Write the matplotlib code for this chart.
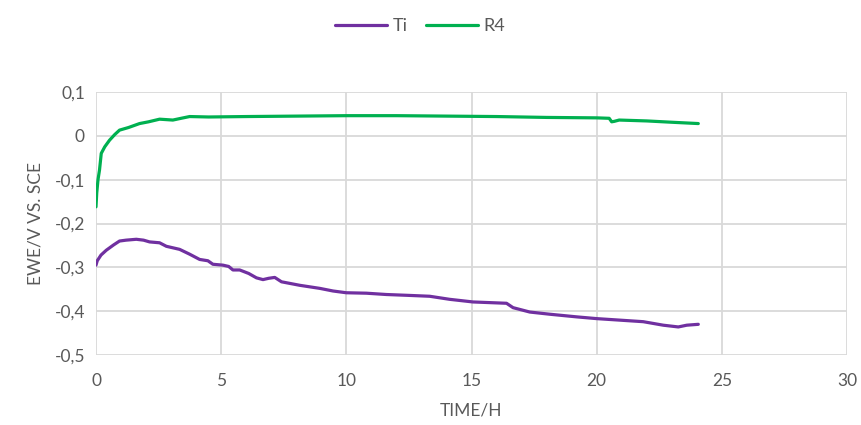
import matplotlib
matplotlib.use("Agg")
import matplotlib.pyplot as plt
from matplotlib.ticker import FuncFormatter, MultipleLocator

plt.rcParams['font.family'] = ['Lato', 'DejaVu Sans']

ti_t = [0, 0.05, 0.2, 0.41, 0.7, 0.94, 1.2, 1.61, 1.9, 2.14, 2.54, 2.81, 3.34, 3.74,
        4.14, 4.47, 4.67, 5.07, 5.3, 5.47, 5.74, 6.1, 6.41, 6.67, 6.9, 7.14, 7.41, 8.14,
        8.94, 9.47, 10.0, 10.8, 11.6, 12.5, 13.33, 14.13, 15.06, 16.4, 16.66, 17.33,
        18.13, 19.2, 20.0, 20.8, 21.86, 22.66, 23.26, 23.6, 24.06]
ti_v = [-0.295, -0.285, -0.272, -0.261, -0.249, -0.240, -0.238, -0.236, -0.238, -0.242,
        -0.244, -0.252, -0.259, -0.270, -0.282, -0.285, -0.293, -0.295, -0.298, -0.306,
        -0.306, -0.314, -0.324, -0.328, -0.325, -0.323, -0.333, -0.341, -0.348, -0.354,
        -0.358, -0.359, -0.362, -0.364, -0.366, -0.373, -0.379, -0.382, -0.392, -0.402,
        -0.407, -0.413, -0.417, -0.420, -0.424, -0.432, -0.436, -0.432, -0.430]

r4_t = [0, 0.03, 0.08, 0.14, 0.21, 0.35, 0.54, 0.75, 0.94, 1.3, 1.74, 2.1, 2.54, 3.07,
        3.4, 3.74, 4.5, 6, 8, 10, 12, 14, 16, 18, 20, 20.5, 20.6, 20.7, 20.9, 22, 23, 24.06]
r4_v = [-0.162, -0.13, -0.10, -0.078, -0.04, -0.025, -0.010, 0.003, 0.013, 0.019, 0.028,
        0.032, 0.038, 0.036, 0.040, 0.044, 0.043, 0.044, 0.045, 0.046, 0.046, 0.045,
        0.044, 0.042, 0.041, 0.040, 0.032, 0.033, 0.036, 0.034, 0.031, 0.028]

fig = plt.figure(figsize=(8.61, 4.25), dpi=100)
ax = fig.add_axes([96/861, 1-355/425, (847-96)/861, (355-92)/425])

ax.plot(ti_t, ti_v, color='#7030A0', lw=2.3, label='Ti', solid_capstyle='round')
ax.plot(r4_t, r4_v, color='#00B050', lw=2.3, label='R4', solid_capstyle='round')

ax.set_xlim(0, 30)
ax.set_ylim(-0.5, 0.1)
ax.xaxis.set_major_locator(MultipleLocator(5))
ax.yaxis.set_major_locator(MultipleLocator(0.1))

def yfmt(v, pos):
    s = f"{v:.1f}"
    if abs(v) < 1e-9:
        return "0"
    return s.replace('.', ',')

ax.yaxis.set_major_formatter(FuncFormatter(yfmt))
ax.xaxis.set_major_formatter(FuncFormatter(lambda v, p: f"{int(round(v))}"))

ax.grid(True, color='#D9D9D9', lw=1.3)
ax.set_axisbelow(True)
for s in ax.spines.values():
    s.set_visible(False)
ax.tick_params(length=0, labelsize=12.5, colors='#595959', pad=8)
ax.tick_params(axis='x', pad=13)

ax.set_xlabel('TIME/H', fontsize=12.5, color='#595959', labelpad=10)
ax.set_ylabel('EWE/V VS. SCE', fontsize=12.5, color='#595959', labelpad=8)

fig.legend(loc='upper center', bbox_to_anchor=(0.488, 0.995), ncol=2, frameon=False,
           fontsize=13, labelcolor='#595959', handlelength=2.9, handletextpad=0.3,
           columnspacing=1.0)

fig.savefig('out.png', dpi=100)
